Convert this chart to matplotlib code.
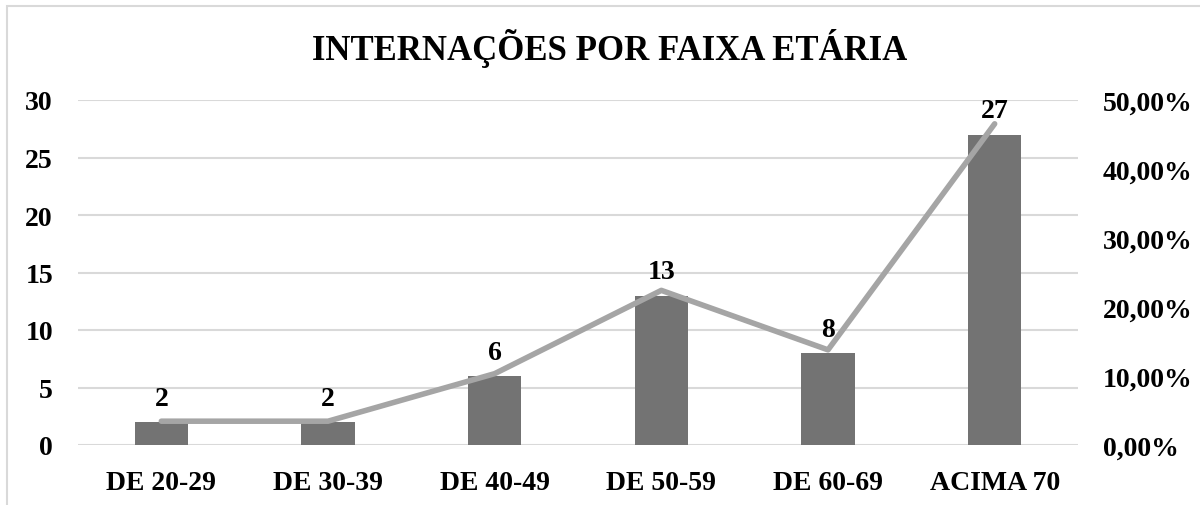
import matplotlib
matplotlib.use("Agg")
import matplotlib.pyplot as plt
from matplotlib.patches import Rectangle
from matplotlib.ticker import FuncFormatter

categories = ["DE 20-29", "DE 30-39", "DE 40-49", "DE 50-59", "DE 60-69", "ACIMA 70"]
internacoes = [2, 2, 6, 13, 8, 27]
percentual = [3.45, 3.45, 10.34, 22.41, 13.79, 46.55]
left_ticks = [0, 5, 10, 15, 20, 25, 30]
right_ticks = [0, 10, 20, 30, 40, 50]
title = "INTERNAÇÕES POR FAIXA ETÁRIA"

plt.rcParams['font.family'] = ['Liberation Serif', 'DejaVu Serif']
plt.rcParams['font.weight'] = 'bold'

W, H = 1200, 506
fig = plt.figure(figsize=(W / 100, H / 100), dpi=100)
ax = fig.add_axes([78 / W, 1 - 446 / H, 1000 / W, 345 / H])

x = list(range(len(categories)))
ax.bar(x, internacoes, width=0.32, color="#737373", zorder=2)
ax.set_xlim(-0.5, len(categories) - 0.5)
ax.set_ylim(0, 30)
ax.set_yticks(left_ticks)
ax.set_xticks(x)
ax.set_xticklabels(categories)
ax.grid(axis='y', color="#D9D9D9", linewidth=1.5, zorder=0)
ax.set_axisbelow(True)
for s in ax.spines.values():
    s.set_visible(False)
ax.tick_params(axis='both', length=0, labelsize=20)
ax.tick_params(axis='y', pad=18)
ax.tick_params(axis='x', pad=18)

ax2 = ax.twinx()
ax2.plot(x, percentual, color="#A5A5A5", linewidth=4, solid_capstyle='round', zorder=3)
ax2.set_ylim(0, 50)
ax2.set_yticks(right_ticks)
ax2.yaxis.set_major_formatter(FuncFormatter(lambda v, p: f"{v:.2f}%".replace('.', ',')))
for s in ax2.spines.values():
    s.set_visible(False)
ax2.tick_params(axis='y', length=0, labelsize=20, pad=18)

for xi, v in zip(x, internacoes):
    ax2.annotate(str(v), xy=(xi, v * 50 / 30), xytext=(0, 8), textcoords='offset points',
                 ha='center', va='bottom', fontsize=20, fontweight='bold', zorder=5)

fig.text(610 / W, 1 - 48 / H, title, ha='center', va='center', fontsize=25, fontweight='bold')

fig.patches.append(Rectangle((7 / W, -0.1), 1.2, 1 - 7 / H + 0.1, transform=fig.transFigure,
                             fill=False, edgecolor="#D9D9D9", linewidth=1.5))

fig.savefig("out.png", dpi=100)
